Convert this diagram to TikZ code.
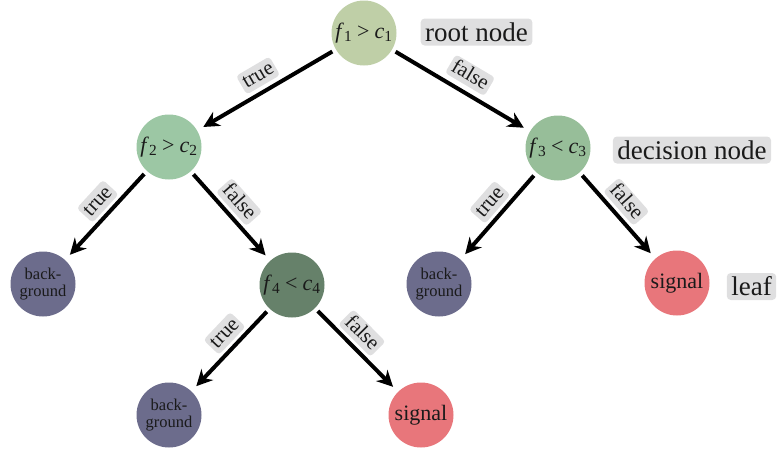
\documentclass[tikz,border=0pt]{standalone}
\usepackage{fontspec}
\setmainfont{Liberation Serif}
\usetikzlibrary{arrows.meta}

\definecolor{rootcol}{HTML}{BFCFA7}
\definecolor{leftcol}{HTML}{9CC7A4}
\definecolor{rightcol}{HTML}{97BE99}
\definecolor{deepcol}{HTML}{66816A}
\definecolor{bgcol}{HTML}{6C6C8C}
\definecolor{sigcol}{HTML}{E8767B}
\definecolor{tagcol}{HTML}{DFDFE0}
\definecolor{inkcol}{HTML}{1A1A1A}

% feature f_i compared with threshold c_j
\newcommand\fcut[3]{\textit{f}\textsubscript{#1}\kern5pt#2\kern5pt\textit{c}\textsubscript{#3}}

\begin{document}
\begin{tikzpicture}[x=1pt,y=-1pt,
  tree/.style={circle, minimum size=65pt, inner sep=0pt, text=inkcol, align=center},
  cond/.style={tree, font=\fontsize{22}{26}\selectfont},
  bgnode/.style={tree, fill=bgcol, font=\fontsize{16.5}{17}\selectfont},
  signode/.style={tree, fill=sigcol, font=\fontsize{22}{26}\selectfont},
  tag/.style={fill=tagcol, rounded corners=4pt, inner xsep=4.5pt, inner ysep=4pt,
    text=inkcol, font=\fontsize{27}{32}\selectfont, text height=18.5pt, text depth=0.5pt},
  branch/.style={line width=4pt, -{Stealth[length=16pt,width=16pt]},
    shorten <=4pt, shorten >=7pt},
  elabel/.style={pos=0.46, sloped, above=3pt, fill=tagcol, rounded corners=3.5pt,
    inner xsep=3pt, inner ysep=2.5pt, text=inkcol, font=\fontsize{21}{24}\selectfont,
    text height=14pt, text depth=2.5pt}
]
\useasboundingbox (0,0) rectangle (778,450);

% decision nodes
\node[cond, fill=rootcol]  (r)  at (364,33)  {\fcut{1}{>}{1}};
\node[cond, fill=leftcol]  (a)  at (169,147) {\fcut{2}{>}{2}};
\node[cond, fill=rightcol] (b)  at (558,148) {\fcut{3}{<}{3}};
\node[cond, fill=deepcol]  (c)  at (292,285) {\fcut{4}{<}{4}};

% leaves
\node[bgnode]  (l1) at (43,284)  {back-\\ground};
\node[bgnode]  (l2) at (439,284) {back-\\ground};
\node[signode] (l3) at (677,283) {signal};
\node[bgnode]  (l4) at (169,415) {back-\\ground};
\node[signode] (l5) at (421,415) {signal};

% annotations
\node[tag] (t1) at (476.5,32)  {root node};
\node[tag] (t2) at (692,150)   {decision node};
\node[tag] (t3) at (751.5,286.5) {leaf};

% branches
\draw[branch] (r) -- node[elabel, pos=0.5, above=1pt] {true} (a);
\draw[branch] (r) -- node[elabel, pos=0.5, above=2pt] {false} (b);
\draw[branch] (a) -- node[elabel] {true} (l1);
\draw[branch] (a) -- node[elabel] {false} (c);
\draw[branch] (b) -- node[elabel] {true} (l2);
\draw[branch] (b) -- node[elabel] {false} (l3);
\draw[branch] (c) -- node[elabel, pos=0.43] {true} (l4);
\draw[branch] (c) -- node[elabel, pos=0.43] {false} (l5);
\end{tikzpicture}
\end{document}
